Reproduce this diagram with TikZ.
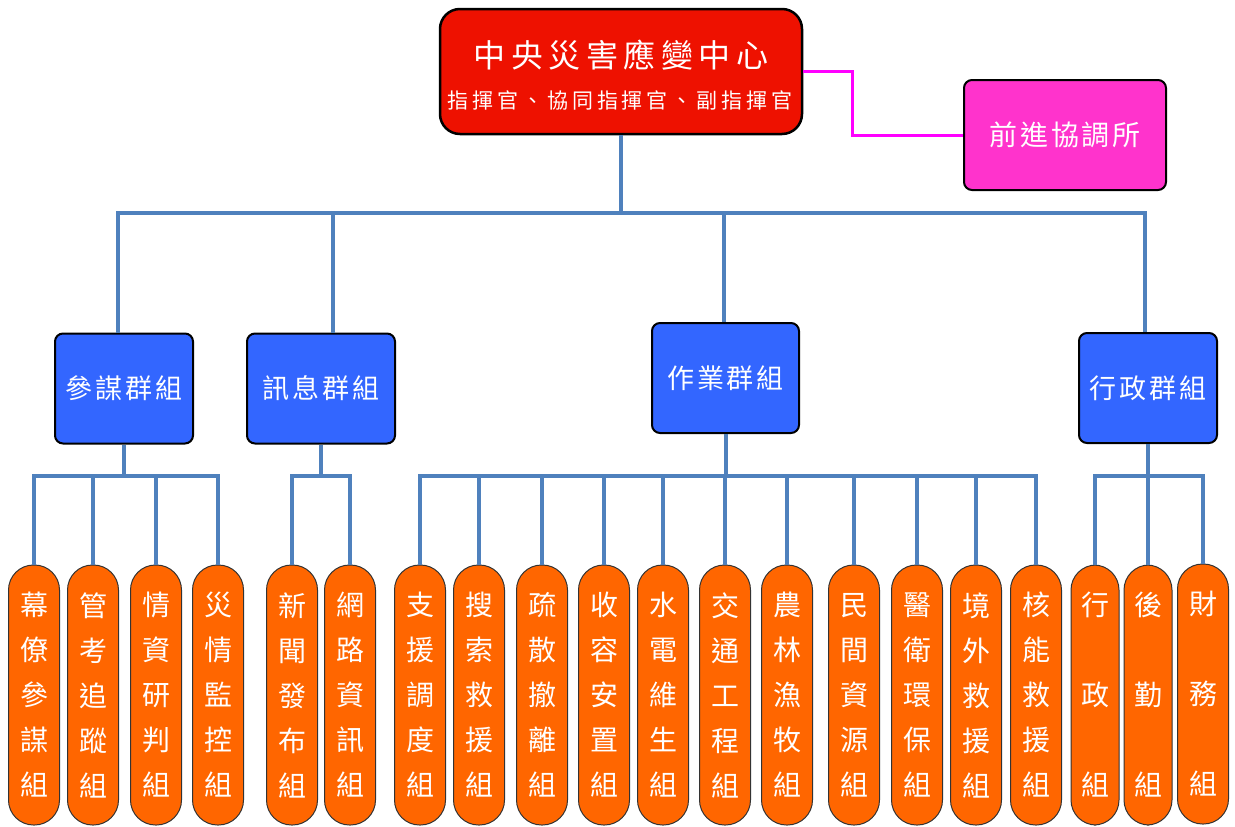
\documentclass[tikz,border=0pt]{standalone}
\usepackage{fontspec}
\newfontfamily\cjk{Noto Sans CJK TC}
\def\chspaced#1#2{\def\chpitch{#1}\chloop#2\relax}
\def\chloop#1{\ifx#1\relax\else\makebox[\chpitch][c]{#1}\expandafter\chloop\fi}
\definecolor{topred}{HTML}{EE1100}
\definecolor{fwdpink}{HTML}{FF33CC}
\definecolor{grpblue}{HTML}{3366FF}
\definecolor{pillorange}{HTML}{FF6600}
\definecolor{lineblue}{HTML}{4F81BD}
\definecolor{linepink}{HTML}{FF00FF}
\tikzset{
  conn/.style={draw=lineblue, line width=4pt},
  pinkconn/.style={draw=linepink, line width=3pt},
  topbox/.style={draw=black, line width=2.5pt, fill=topred, rounded corners=20pt,
    minimum width=362pt, minimum height=125pt, inner sep=0pt},
  toptext/.style={text=white, inner sep=0pt},
  fwdbox/.style={draw=black, line width=2pt, fill=fwdpink, rounded corners=8pt,
    minimum width=202pt, minimum height=110pt, text=white, inner sep=0pt,
    font={\cjk\fontsize{28pt}{34pt}\selectfont}},
  grpbox/.style={draw=black, line width=2pt, fill=grpblue, rounded corners=8pt,
    minimum height=110pt, text=white, inner sep=0pt,
    font={\cjk\fontsize{27pt}{34pt}\selectfont}},
  pill/.style={draw=black!80, line width=1pt, fill=pillorange, rounded corners=25pt,
    minimum width=51pt, minimum height=260pt, text=white, inner sep=0pt, align=center,
    font={\cjk\fontsize{28pt}{45pt}\selectfont}},
  pillwide/.style={pill, font={\cjk\fontsize{28pt}{90pt}\selectfont}}
}
\begin{document}
\begin{tikzpicture}[x=1pt,y=-1pt]
\useasboundingbox (0,0) rectangle (1235,827);

% top
\node[topbox] (top) at (621,71.5) {};
\node[toptext, font={\cjk\fontsize{32pt}{36pt}\selectfont}] (title) at (621,55)
  {\chspaced{37.5pt}{中央災害應變中心}};
\node[toptext, font={\cjk\fontsize{21pt}{26pt}\selectfont}] (subtitle) at (620,100)
  {\chspaced{24.9pt}{指揮官、協同指揮官、副指揮官}};
\node[fwdbox] (fwd) at (1065,135) {\chspaced{31pt}{前進協調所}};
\draw[pinkconn] (top.east) -- ++(49,0) coordinate (pk) |- (fwd.west);

% groups
\node[grpbox, minimum width=138pt] (g1) at (124,388.5) {\chspaced{30pt}{參謀群組}};
\node[grpbox, minimum width=148pt] (g2) at (321,388.5) {\chspaced{30pt}{訊息群組}};
\node[grpbox, minimum width=147pt] (g3) at (725.5,378) {\chspaced{30pt}{作業群組}};
\node[grpbox, minimum width=138pt] (g4) at (1148,388) {\chspaced{30pt}{行政群組}};

\draw[conn] (top.south) -- ++(0,78) coordinate (bus);
\draw[conn] ([xshift=-6pt]g1.north) |- (bus) -| ([xshift=-3pt]g4.north);
\draw[conn] ([xshift=12pt]g2.north) -- ([xshift=12pt]g2.north |- bus);
\draw[conn] ([xshift=-2pt]g3.north) -- ([xshift=-2pt]g3.north |- bus);

% pills
\node[pill] (p1) at (34,695) {幕\\僚\\參\\謀\\組};
\node[pill] (p2) at (93,695) {管\\考\\追\\蹤\\組};
\node[pill] (p3) at (156,695) {情\\資\\研\\判\\組};
\node[pill] (p4) at (218,695) {災\\情\\監\\控\\組};
\node[pill] (p5) at (292,695) {新\\聞\\發\\布\\組};
\node[pill] (p6) at (350,695) {網\\路\\資\\訊\\組};
\node[pill] (p7) at (420,695) {支\\援\\調\\度\\組};
\node[pill] (p8) at (479,695) {搜\\索\\救\\援\\組};
\node[pill] (p9) at (542,695) {疏\\散\\撤\\離\\組};
\node[pill] (p10) at (604,695) {收\\容\\安\\置\\組};
\node[pill] (p11) at (663,695) {水\\電\\維\\生\\組};
\node[pill] (p12) at (725,695) {交\\通\\工\\程\\組};
\node[pill] (p13) at (787,695) {農\\林\\漁\\牧\\組};
\node[pill] (p14) at (854,695) {民\\間\\資\\源\\組};
\node[pill] (p15) at (917,695) {醫\\衛\\環\\保\\組};
\node[pill] (p16) at (976,695) {境\\外\\救\\援\\組};
\node[pill] (p17) at (1036,695) {核\\能\\救\\援\\組};
\node[pillwide, minimum width=48pt] (p18) at (1095,695) {行\\政\\組};
\node[pillwide, minimum width=48pt] (p19) at (1148,695) {後\\勤\\組};
\node[pillwide] (p20) at (1203,694) {財\\務\\組};

% sub buses
\draw[conn] (g1.south) -- ++(0,31) coordinate (b1);
\draw[conn] (p1.north) |- (b1) -| (p4.north);
\draw[conn] (p2.north) -- (p2.north |- b1);
\draw[conn] (p3.north) -- (p3.north |- b1);

\draw[conn] (g2.south) -- ++(0,31) coordinate (b2);
\draw[conn] (p5.north) |- (b2) -| (p6.north);

\draw[conn] (g3.south) -- ++(0,42) coordinate (b3);
\draw[conn] (p7.north) |- (b3) -| (p17.north);
\foreach \i in {8,...,16} { \draw[conn] (p\i.north) -- (p\i.north |- b3); }

\draw[conn] (g4.south) -- ++(0,32) coordinate (b4);
\draw[conn] (p18.north) |- (b4) -| (p20.north);
\draw[conn] (p19.north) -- (p19.north |- b4);
\end{tikzpicture}
\end{document}
